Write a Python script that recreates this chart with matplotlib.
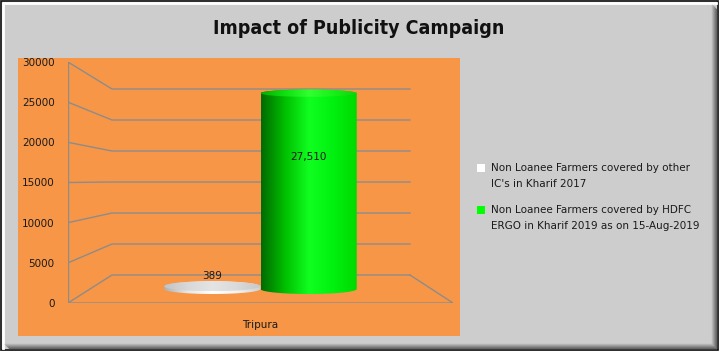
import numpy as np
import matplotlib
matplotlib.use("Agg")
import matplotlib.pyplot as plt
from matplotlib.patches import Rectangle, Ellipse, PathPatch
from matplotlib.path import Path

# chart data
categories = ["Tripura"]
series_names = ["Non Loanee Farmers covered by other\nIC's in Kharif 2017",
                "Non Loanee Farmers covered by HDFC\nERGO in Kharif 2019 as on 15-Aug-2019"]
series_values = [389, 27510]
value_labels = ["389", "27,510"]
y_ticks = [0, 5000, 10000, 15000, 20000, 25000, 30000]

W, H = 719, 351
fig = plt.figure(figsize=(W / 100, H / 100), dpi=100)
fig.patch.set_facecolor("#cdcdcd")


def fx(px):
    return px / W


def fy(py):
    return 1 - py / H


def fline(xs, ys, **kw):
    fig.add_artist(plt.Line2D([fx(x) for x in xs], [fy(y) for y in ys],
                              transform=fig.transFigure, **kw))


# bevelled frame around the picture
fline([3, 3, 716], [348, 3, 3], color="#ffffff", lw=2)
shade = ["#b8b8b8", "#a4a4a4", "#909090", "#7c7c7c", "#666666"]
for k, col in enumerate(shade):
    o = 712 + k
    b = 344 + k
    fline([5 + k, o, o], [b, b, 5 + k], color=col, lw=1)
fig.add_artist(Rectangle((fx(0.7), fy(350.3)), fx(717.6), 349.6 / H, transform=fig.transFigure,
                         fill=False, edgecolor="#111111", lw=1.2))

# orange plot area
fig.add_artist(Rectangle((fx(18), fy(336)), fx(442), 278 / H, transform=fig.transFigure,
                         facecolor="#f79646", edgecolor="none", zorder=0))

fig.text(fx(359), fy(29), "Impact of Publicity Campaign", ha="center", va="center",
         fontsize=14, fontweight="bold", family="DejaVu Sans", fontstretch="condensed",
         color="#111111")

# front plane of the 3d chart
ax = fig.add_axes([fx(68), fy(303), fx(385), 241 / H])
ax.set_xlim(0, 1)
ax.set_ylim(0, 30000)
ax.patch.set_alpha(0)
for s in ax.spines.values():
    s.set_visible(False)
ax.set_yticks(y_ticks)
ax.set_yticklabels([str(t) for t in y_ticks])
ax.set_xticks([0.5])
ax.set_xticklabels(categories)
ax.tick_params(axis="y", length=0, pad=9.5, labelsize=7.5, labelcolor="#1a1a1a")
ax.tick_params(axis="x", length=0, pad=12, labelsize=7.5, labelcolor="#1a1a1a")

# depth projection: d = 0 front, 1 back
DX = 44 / 385      # back wall x shift in axis units
DY = 28            # back wall lift in pixels
SHRINK = 55        # back wall height loss in pixels
PXV = 30000 / 241  # value units per pixel


def proj(v, d):
    return (DY * d * 30000 + v * (241 - SHRINK * d)) / 241


grid_c = "#8c8c8c"
back_r = 1 - 43 / 385
for t in y_ticks:
    ax.plot([0, DX, back_r], [t, proj(t, 1), proj(t, 1)], color=grid_c, lw=1, zorder=1)
ax.plot([0, 0], [0, 30000], color=grid_c, lw=1, zorder=1)
ax.plot([0, 1, back_r], [0, 0, proj(0, 1)], color=grid_c, lw=1, zorder=1)

# cylinders at mid depth
bar_w = 0.25
centers = [0.5 - bar_w / 2, 0.5 + bar_w / 2]
body_cmaps = [
    ["#b0b0b0", "#e8e8e8", "#ffffff", "#f4f4f4", "#d0d0d0"],
    ["#006a00", "#00c000", "#10ff20", "#00f010", "#00d800"],
]
top_cmaps = [
    ["#c4c4c4", "#d8d8d8", "#e4e4e4", "#dadada", "#c8c8c8"],
    ["#00b000", "#10e010", "#30ff30", "#18f018", "#10d010"],
]

for i, (c, v) in enumerate(zip(centers, series_values)):
    y0 = proj(0, 0.5)
    y1 = proj(v, 0.5)
    ry_bot = 5 * PXV
    ry_top = (5 - 1.5 * v / 30000) * PXV
    rx = bar_w / 2
    t = np.linspace(np.pi, 2 * np.pi, 60)
    bottom = np.column_stack([c + rx * np.cos(t), y0 + ry_bot * np.sin(t)])
    t2 = np.linspace(0, np.pi, 60)
    top = np.column_stack([c + rx * np.cos(t2), y1 + ry_top * np.sin(t2)])
    verts = np.vstack([bottom, top, bottom[:1]])
    grad = np.linspace(0, 1, 256).reshape(1, -1)
    cmap = matplotlib.colors.LinearSegmentedColormap.from_list("b%d" % i, body_cmaps[i])
    im = ax.imshow(grad, cmap=cmap, aspect="auto", zorder=3,
                   extent=[c - rx, c + rx, y0 - ry_bot, y1 + ry_top], origin="lower")
    clip = PathPatch(Path(verts), transform=ax.transData, facecolor="none", edgecolor="none")
    ax.add_patch(clip)
    im.set_clip_path(clip)
    # top face
    tcmap = matplotlib.colors.LinearSegmentedColormap.from_list("t%d" % i, top_cmaps[i])
    im2 = ax.imshow(grad, cmap=tcmap, aspect="auto", zorder=4,
                    extent=[c - rx, c + rx, y1 - ry_top, y1 + ry_top], origin="lower")
    ell = Ellipse((c, y1), 2 * rx, 2 * ry_top, facecolor="none", edgecolor="none")
    ax.add_patch(ell)
    im2.set_clip_path(ell)
    if v < 3000:
        ax.text(c, y1 + ry_top + 60, value_labels[i], ha="center", va="bottom",
                fontsize=7.5, color="#1a1a1a", zorder=5)
    else:
        ax.text(c, proj(v * 0.675, 0.5), value_labels[i], ha="center", va="center",
                fontsize=7.5, color="#1a1a1a", zorder=5)

ax.set_xlim(0, 1)
ax.set_ylim(0, 30000)

# legend
leg_cols = ["#ffffff", "#00ff00"]
leg_y = [168, 210]
for name, col, y in zip(series_names, leg_cols, leg_y):
    fig.add_artist(Rectangle((fx(477), fy(y + 4)), fx(8), 8 / H, transform=fig.transFigure,
                             facecolor=col, edgecolor="none"))
    fig.text(fx(491), fy(y - 5), name, ha="left", va="top", fontsize=7.5,
             color="#1a1a1a", linespacing=1.8)

fig.savefig("out.png", dpi=100, facecolor=fig.get_facecolor())
